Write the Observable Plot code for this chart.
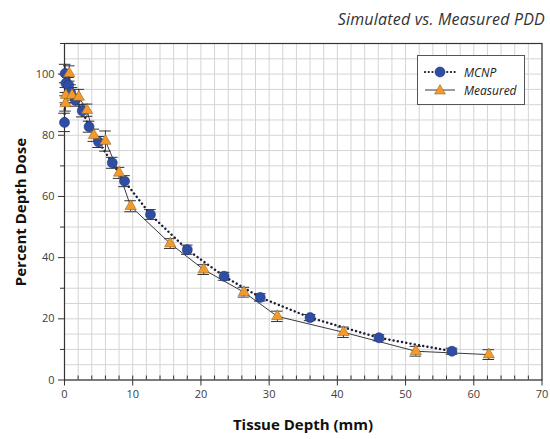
<!DOCTYPE html>
<html>
<head>
<meta charset="utf-8">
<script src="https://cdn.jsdelivr.net/npm/d3@7"></script>
<script src="https://cdn.jsdelivr.net/npm/@observablehq/plot@0.6"></script>
<style>
  html, body { margin: 0; padding: 0; background: #fff; }
  #wrap { position: relative; width: 550px; height: 439px; font-family: "Open Sans", sans-serif; }
  #wrap > svg { position: absolute; left: 0; top: 0; }
  .title { position: absolute; right: 5px; top: 8px; font-size: 16px; font-style: italic; color: #333; white-space: nowrap; letter-spacing: 0.2px; }
  .ylab { position: absolute; left: 20px; top: 212px; transform: translate(-50%, -50%) rotate(-90deg); font-size: 15px; font-weight: bold; color: #111; white-space: nowrap; }
  .xlab { position: absolute; left: 303px; top: 414px; transform: translateX(-50%); font-size: 15px; font-weight: bold; color: #111; white-space: nowrap; }
  .legend { position: absolute; left: 417px; top: 55px; width: 106px; height: 48px; border: 1px solid #555; background: #fff; font-size: 12px; font-style: italic; color: #222; }
  .legend .row { position: absolute; left: 6px; height: 14px; display: flex; align-items: center; }
  .legend svg { margin-right: 8px; }
</style>
</head>
<body>
<div id="wrap"></div>
<script>
const seriesNames = ["MCNP", "Measured"];
const mcnpDepth = [0.0, 0.1, 0.2, 0.6, 0.9, 1.6, 2.6, 3.6, 5.0, 7.0, 8.8, 12.6, 18.0, 23.4, 28.7, 36.0, 46.1, 56.8];
const mcnpDose  = [84.2, 100.2, 97.0, 96.4, 94.0, 91.5, 88.0, 82.8, 77.8, 71.0, 65.0, 54.1, 42.6, 33.9, 27.0, 20.4, 13.8, 9.4];
const mcnpErr   = [3.0, 3.0, 3.0, 2.5, 2.5, 2.0, 2.0, 1.8, 1.8, 1.8, 1.8, 1.6, 1.5, 1.3, 1.2, 1.0, 1.0, 1.0];
const measDepth = [0.15, 0.2, 0.7, 1.1, 2.1, 3.3, 4.3, 6.0, 8.0, 9.7, 15.5, 20.4, 26.3, 31.2, 40.9, 51.5, 62.2];
const measDose  = [90.4, 93.1, 100.2, 93.1, 92.5, 88.2, 80.0, 78.1, 67.7, 56.8, 44.6, 36.1, 28.7, 20.8, 15.6, 9.4, 8.3];
const measErr   = [2.5, 2.5, 2.5, 2.5, 2.5, 2.0, 2.0, 3.3, 1.8, 1.8, 1.6, 1.6, 1.6, 1.7, 1.7, 1.6, 1.6];
const xMajorTicks = [0, 10, 20, 30, 40, 50, 60, 70];
const yMajorTicks = [0, 20, 40, 60, 80, 100];
const xGrid = d3.range(0, 71, 2);
const yGrid = d3.range(0, 111, 5);
const yMinorTicks = d3.range(10, 111, 20);
const xMinorTicks = d3.range(2, 70, 2);

const mcnp = mcnpDepth.map((x, i) => ({x, y: mcnpDose[i], e: mcnpErr[i]}));
const meas = measDepth.map((x, i) => ({x, y: measDose[i], e: measErr[i]}));
const capW = 0.85;

const blue = "#2f4da3", orange = "#f39a2c";

const errBars = (data) => [
  Plot.ruleX(data, {x: "x", y1: d => d.y - d.e, y2: d => d.y + d.e, stroke: "#333", strokeWidth: 1}),
  Plot.ruleY(data, {y: d => d.y - d.e, x1: d => d.x - capW, x2: d => d.x + capW, stroke: "#333", strokeWidth: 1}),
  Plot.ruleY(data, {y: d => d.y + d.e, x1: d => d.x - capW, x2: d => d.x + capW, stroke: "#333", strokeWidth: 1})
];

const plot = Plot.plot({
  width: 550, height: 439,
  marginLeft: 64, marginRight: 8.5, marginTop: 43, marginBottom: 59.5,
  style: {fontFamily: "Open Sans, sans-serif", fontSize: "11px", color: "#333", background: "transparent"},
  x: {domain: [0, 70]},
  y: {domain: [0, 110]},
  marks: [
    Plot.gridX(xGrid, {stroke: "#d4d4d4", strokeOpacity: 1}),
    Plot.gridY(yGrid, {stroke: "#d4d4d4", strokeOpacity: 1}),
    Plot.axisX({ticks: xMajorTicks, tickSize: 6, tickPadding: 4, label: null, stroke: "#333", fill: "#404040"}),
    Plot.axisX({ticks: xMinorTicks, tickSize: -4, tickFormat: () => "", label: null, stroke: "#333"}),
    Plot.axisY({ticks: yMajorTicks, tickSize: 6, tickPadding: 4, label: null, stroke: "#333", fill: "#404040"}),
    Plot.axisY({ticks: yMinorTicks, tickSize: 4, tickFormat: () => "", label: null, stroke: "#333"}),
    Plot.frame({stroke: "#333", strokeWidth: 1.2}),
    Plot.line(mcnp, {x: "x", y: "y", stroke: "#1b1b3a", strokeWidth: 2.4, strokeDasharray: "0.1,4.2", strokeLinecap: "round"}),
    Plot.line(meas, {x: "x", y: "y", stroke: "#3a3a3a", strokeWidth: 1}),
    ...errBars(mcnp),
    ...errBars(meas),
    Plot.dot(mcnp, {x: "x", y: "y", r: 5, fill: blue, stroke: "#1f3583", strokeWidth: 0.6}),
    Plot.dot(meas, {x: "x", y: "y", r: 4.2, symbol: "triangle", fill: orange, stroke: "#8a5a1c", strokeWidth: 0.5})
  ]
});

const wrap = document.getElementById("wrap");
wrap.appendChild(plot);

const add = (cls, text) => { const d = document.createElement("div"); d.className = cls; d.textContent = text; wrap.appendChild(d); return d; };
add("title", "Simulated vs. Measured PDD");
add("ylab", "Percent Depth Dose");
add("xlab", "Tissue Depth (mm)");

const leg = document.createElement("div");
leg.className = "legend";
leg.innerHTML = `
  <div class="row" style="top:9px">
    <svg width="32" height="14"><line x1="1" y1="7" x2="31" y2="7" stroke="#1b1b3a" stroke-width="2.2" stroke-dasharray="0.1,3.6" stroke-linecap="round"/><circle cx="16" cy="7" r="5" fill="${blue}" stroke="#1f3583" stroke-width="0.6"/></svg><span>${seriesNames[0]}</span>
  </div>
  <div class="row" style="top:27px">
    <svg width="32" height="14"><line x1="1" y1="7" x2="31" y2="7" stroke="#3a3a3a" stroke-width="1"/><path d="M16,1.5L21.5,11L10.5,11Z" fill="${orange}" stroke="#8a5a1c" stroke-width="0.5"/></svg><span>${seriesNames[1]}</span>
  </div>`;
wrap.appendChild(leg);
</script>
</body>
</html>
